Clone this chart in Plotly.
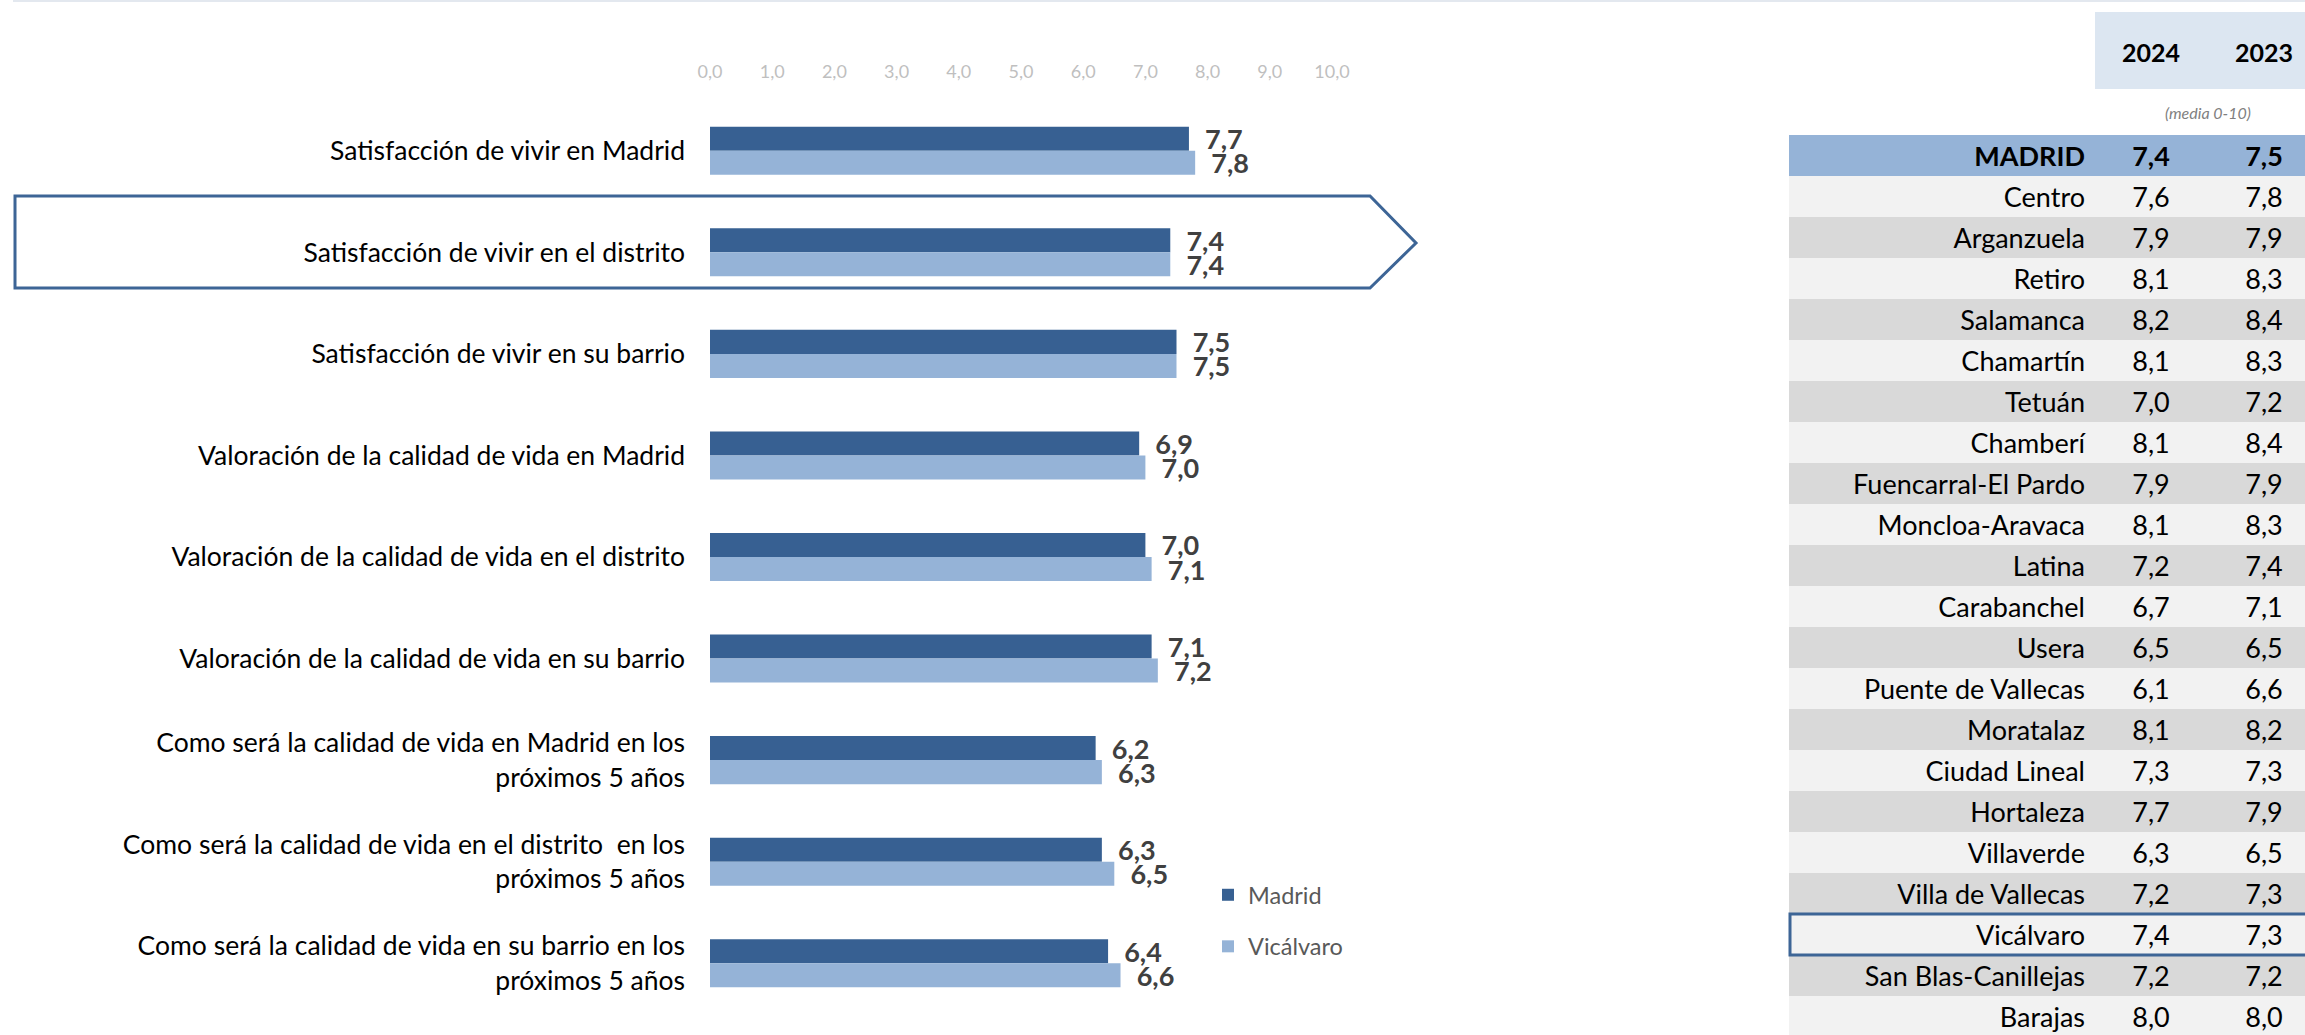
import plotly.graph_objects as go

# ---------------- data ----------------
categories = [
    "Satisfacción de vivir en Madrid",
    "Satisfacción de vivir en el distrito",
    "Satisfacción de vivir en su barrio",
    "Valoración de la calidad de vida en Madrid",
    "Valoración de la calidad de vida en el distrito",
    "Valoración de la calidad de vida en su barrio",
    "Como será la calidad de vida en Madrid en los<br>próximos 5 años",
    "Como será la calidad de vida en el distrito\u00a0 en los<br>próximos 5 años",
    "Como será la calidad de vida en su barrio en los<br>próximos 5 años",
]
madrid = [7.7, 7.4, 7.5, 6.9, 7.0, 7.1, 6.2, 6.3, 6.4]
vicalvaro = [7.8, 7.4, 7.5, 7.0, 7.1, 7.2, 6.3, 6.5, 6.6]
series_names = ["Madrid", "Vicálvaro"]
x_ticks = [0, 1, 2, 3, 4, 5, 6, 7, 8, 9, 10]

districts = [
    "MADRID", "Centro", "Arganzuela", "Retiro", "Salamanca", "Chamartín",
    "Tetuán", "Chamberí", "Fuencarral-El Pardo", "Moncloa-Aravaca", "Latina",
    "Carabanchel", "Usera", "Puente de Vallecas", "Moratalaz", "Ciudad Lineal",
    "Hortaleza", "Villaverde", "Villa de Vallecas", "Vicálvaro",
    "San Blas-Canillejas", "Barajas",
]
v2024 = [7.4, 7.6, 7.9, 8.1, 8.2, 8.1, 7.0, 8.1, 7.9, 8.1, 7.2, 6.7, 6.5,
         6.1, 8.1, 7.3, 7.7, 6.3, 7.2, 7.4, 7.2, 8.0]
v2023 = [7.5, 7.8, 7.9, 8.3, 8.4, 8.3, 7.2, 8.4, 7.9, 8.3, 7.4, 7.1, 6.5,
         6.6, 8.2, 7.3, 7.9, 6.5, 7.3, 7.3, 7.2, 8.0]
years = ["2024", "2023"]
table_note = "(media 0-10)"
highlight_category = categories[1]
highlight_district = "Vicálvaro"

# ---------------- layout helpers ----------------
W, H = 2305, 1035
FONT = "Lato"
DARK = "#376092"
LIGHT = "#95b3d7"
EDGE = "#3d6596"


def fx(p):
    return p / W


def fy(p):
    return 1 - p / H


def fmt(v):
    return f"{v:.1f}".replace(".", ",")


fig = go.Figure()

label_font = dict(family=FONT, size=27, color="#404040", weight="bold")
for name, vals, col in [(series_names[0], madrid, DARK), (series_names[1], vicalvaro, LIGHT)]:
    fig.add_trace(go.Bar(
        name=name, y=categories, x=vals, orientation="h",
        marker=dict(color=col, line=dict(width=0)),
        texttemplate="\u00a0\u00a0%{x:.1f}", textposition="outside",
        textfont=label_font, constraintext="none", cliponaxis=False,
        legendgroup=name, xaxis="x", yaxis="y", hoverinfo="skip",
    ))

# ---------------- table (second axes) ----------------
COL_NAME_X = 2085
COL_X = [2151, 2264]
TBL_X0, TBL_X1 = 1789, 2305
TBL_FONT = 27
ROW_SHIFT = 0.08  # nudges text slightly below the row centre, as in the reference


def bold_if_first(items):
    return [f"<b>{t}</b>" if i == 0 else t for i, t in enumerate(items)]


fig.add_trace(go.Scatter(
    x=[COL_NAME_X] * len(districts), y=districts, mode="text",
    text=bold_if_first(districts), textposition="middle left",
    textfont=dict(family=FONT, size=TBL_FONT, color="#000000"),
    xaxis="x2", yaxis="y2", showlegend=False, hoverinfo="skip", cliponaxis=False,
))
for cx, vals in zip(COL_X, [v2024, v2023]):
    fig.add_trace(go.Scatter(
        x=[cx] * len(districts), y=districts, mode="text",
        text=bold_if_first([fmt(v) for v in vals]), textposition="middle center",
        textfont=dict(family=FONT, size=TBL_FONT, color="#000000"),
        xaxis="x2", yaxis="y2", showlegend=False, hoverinfo="skip", cliponaxis=False,
    ))

shapes = []
for i, d in enumerate(districts):
    if i == 0:
        fill = "#95b3d7"
    elif i % 2 == 1:
        fill = "#f2f2f2"
    else:
        fill = "#d9d9d9"
    shapes.append(dict(type="rect", xref="x2", yref="y2", x0=TBL_X0, x1=TBL_X1,
                       y0=i - 0.5 - ROW_SHIFT, y1=i + 0.5 - ROW_SHIFT, fillcolor=fill,
                       line=dict(width=0), layer="below"))

hi = districts.index(highlight_district)
shapes.append(dict(type="rect", xref="x2", yref="y2", x0=TBL_X0 + 1, x1=TBL_X1 + 20,
                   y0=hi - 0.5 - ROW_SHIFT, y1=hi + 0.5 - ROW_SHIFT,
                   fillcolor="rgba(0,0,0,0)",
                   line=dict(width=3, color=EDGE), layer="above"))

# header box
shapes.append(dict(type="rect", xref="paper", yref="paper", x0=fx(2095), x1=fx(2305),
                   y0=fy(89), y1=fy(12), fillcolor="#dce6f1", line=dict(width=0),
                   layer="below"))

# faint top rule
shapes.append(dict(type="line", xref="paper", yref="paper", x0=fx(13), x1=1,
                   y0=fy(1), y1=fy(1), line=dict(width=2, color="#e3e8ef")))

# arrow box around highlighted category
pts = [(15, 196), (1370, 196), (1416, 243), (1370, 288), (15, 288)]
path = "M " + " L ".join(f"{fx(a):.5f},{fy(b):.5f}" for a, b in pts) + " Z"
shapes.append(dict(type="path", xref="paper", yref="paper", path=path,
                   line=dict(width=3, color=EDGE), fillcolor="rgba(0,0,0,0)"))

annotations = []
for cx, yr in zip(COL_X, years):
    annotations.append(dict(x=cx, xref="x2", y=fy(52), yref="paper", text=f"<b>{yr}</b>",
                            showarrow=False, xanchor="center", yanchor="middle",
                            font=dict(family=FONT, size=25, color="#000000")))
annotations.append(dict(x=(COL_X[0] + COL_X[1]) / 2, xref="x2", y=fy(113), yref="paper",
                        text=f"<i>{table_note}</i>", showarrow=False,
                        xanchor="center", yanchor="middle",
                        font=dict(family=FONT, size=16, color="#7f7f7f")))

n_rows_visible = (1035 - 135) / 41.0

fig.update_layout(
    template="none",
    width=W, height=H, autosize=False,
    margin=dict(l=0, r=0, t=0, b=0, pad=0, autoexpand=False),
    paper_bgcolor="white", plot_bgcolor="white",
    separators=",.",
    barmode="group", bargap=0.527, bargroupgap=0,
    font=dict(family=FONT),
    hovermode=False,
    xaxis=dict(domain=[fx(710), fx(1332)], range=[0, 10], side="top",
               tickvals=x_ticks, tickformat=".1f",
               tickfont=dict(family=FONT, size=18, color="#bfbfbf"),
               showgrid=False, zeroline=False, showline=False, ticks="",
               ticklabelstandoff=17, anchor="y", fixedrange=True, automargin=False),
    yaxis=dict(domain=[fy(1014), fy(100)], autorange="reversed",
               categoryorder="array", categoryarray=categories,
               tickfont=dict(family=FONT, size=26.5, color="#000000"),
               showgrid=False, zeroline=False, showline=False, ticks="",
               ticklabelstandoff=24, anchor="x", fixedrange=True, automargin=False),
    xaxis2=dict(domain=[fx(1780), 1], range=[1780, 2305], visible=False,
                anchor="y2", fixedrange=True, automargin=False),
    yaxis2=dict(domain=[0, fy(135)], type="category", categoryorder="array",
                categoryarray=districts,
                range=[n_rows_visible - 0.5 - ROW_SHIFT, -0.5 - ROW_SHIFT],
                visible=False, anchor="x2", fixedrange=True, automargin=False),
    legend=dict(x=fx(1208), y=fy(873), xanchor="left", yanchor="top",
                font=dict(family=FONT, size=23.5, color="#595959"),
                bgcolor="rgba(0,0,0,0)", borderwidth=0,
                traceorder="grouped", tracegroupgap=18,
                itemclick=False, itemdoubleclick=False),
    shapes=shapes,
    annotations=annotations,
)

fig.write_html(
    "out.html",
    config={"displayModeBar": False, "responsive": False, "staticPlot": False},
    post_script="document.body.style.margin='0px';document.body.style.overflow='hidden';",
)
